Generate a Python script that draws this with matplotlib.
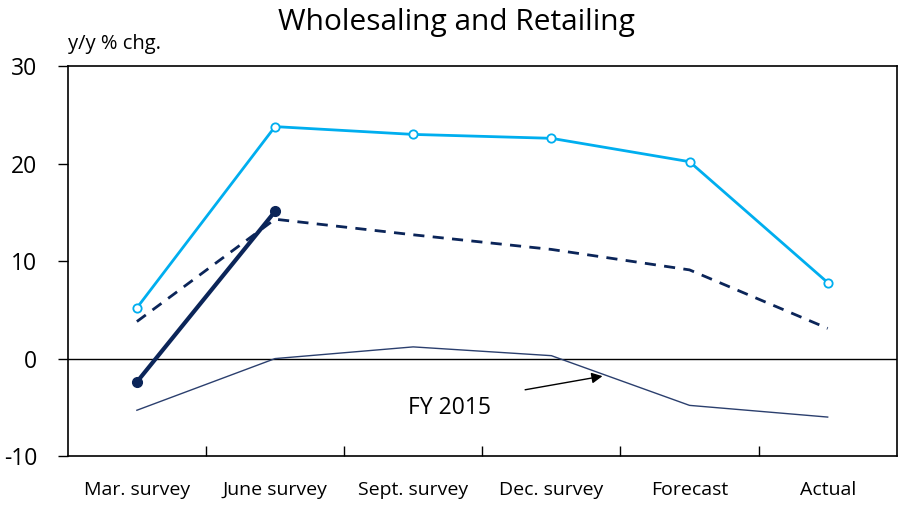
import matplotlib
matplotlib.use("Agg")
import matplotlib.pyplot as plt

categories = ["Mar. survey", "June survey", "Sept. survey", "Dec. survey", "Forecast", "Actual"]
fy2016_latest = [5.2, 23.8, 23.0, 22.6, 20.2, 7.8]      # light blue, open markers
fy2016_prev = [3.8, 14.3, 12.7, 11.2, 9.1, 3.1]         # navy dashed
fy2017 = [-2.4, 15.1]                                   # thick navy, filled markers
fy2015 = [-5.3, 0.0, 1.2, 0.3, -4.8, -6.0]              # thin navy

plt.rcParams["font.family"] = ["Open Sans", "DejaVu Sans"]
plt.rcParams["axes.unicode_minus"] = False

CYAN = "#00AEEF"
NAVY = "#0B2559"
THIN = "#2B3F6E"

fig, ax = plt.subplots(figsize=(9.04, 5.13), dpi=100)
fig.subplots_adjust(left=0.075, right=0.992, top=0.871, bottom=0.111)

x = list(range(len(categories)))
ax.plot(x, fy2015, color=THIN, lw=1.0, zorder=2)
ax.plot(x, fy2016_prev, color=NAVY, lw=2.0, ls=(0, (4, 3)), zorder=3)
ax.plot(x, fy2016_latest, color=CYAN, lw=2.0, marker="o", ms=6,
        mfc="white", mec=CYAN, mew=1.3, zorder=4)
ax.plot(x[:len(fy2017)], fy2017, color=NAVY, lw=3.0, marker="o", ms=7,
        mfc=NAVY, mec=NAVY, zorder=5)

ax.axhline(0, color="black", lw=1.0, zorder=1)

ax.set_xlim(-0.5, 5.5)
ax.set_ylim(-10, 30)
ax.set_yticks([-10, 0, 10, 20, 30])
ax.tick_params(axis="y", direction="out", length=7, width=1, labelsize=16.5, pad=15)

ax.set_xticks(x)
ax.set_xticklabels(categories)
ax.tick_params(axis="x", which="major", length=0, labelsize=14, pad=18)
ax.set_xticks([i + 0.5 for i in range(len(categories) - 1)], minor=True)
ax.tick_params(axis="x", which="minor", direction="in", length=7, width=1)

for s in ax.spines.values():
    s.set_linewidth(1.2)

fig.suptitle("Wholesaling and Retailing", fontsize=21.5, x=0.505, y=0.957, va="center")
ax.text(0.0, 1.03, "y/y % chg.", transform=ax.transAxes, fontsize=14.5, ha="left", va="bottom")

ax.text(2.26, -5.1, "FY 2015", fontsize=16.5, ha="center", va="center")
ax.annotate("", xy=(3.37, -1.8), xytext=(2.81, -3.2),
            arrowprops=dict(arrowstyle="-|>", color="black", lw=1.0,
                            shrinkA=0, shrinkB=0, mutation_scale=16))

plt.savefig("out.png")
